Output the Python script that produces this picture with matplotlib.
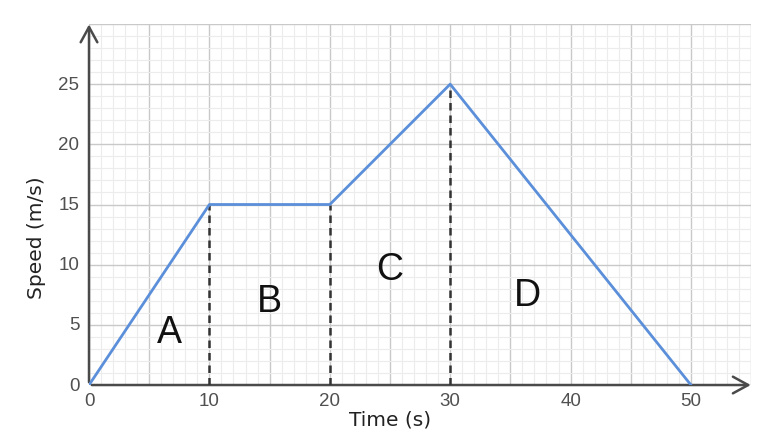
import numpy as np
import matplotlib.pyplot as plt
from matplotlib.ticker import MultipleLocator

# --- Data ---
time_s = [0, 10, 20, 30, 50]
speed_ms = [0, 15, 15, 25, 0]
drop_x = [10, 20, 30]
drop_y = [15, 15, 25]
section_labels = ["A", "B", "C", "D"]
section_x = [6.7, 15.0, 25.0, 36.4]
section_y = [4.4, 7.0, 9.6, 7.5]
x_ticks = [0, 10, 20, 30, 40, 50]
y_ticks = [0, 5, 10, 15, 20, 25]

fig = plt.figure(figsize=(7.72, 4.35), dpi=100)
ax = fig.add_axes([0.1153, 0.1126, 0.973 - 0.1153, 0.9425 - 0.1126])

ax.set_xlim(0, 55)
ax.set_ylim(0, 30)

# grid
ax.xaxis.set_major_locator(MultipleLocator(5))
ax.yaxis.set_major_locator(MultipleLocator(5))
ax.xaxis.set_minor_locator(MultipleLocator(1))
ax.yaxis.set_minor_locator(MultipleLocator(1))
ax.grid(which="major", color="#c9c9c9", linewidth=1.0)
ax.grid(which="minor", color="#ececec", linewidth=0.8)
ax.set_axisbelow(True)

ax.tick_params(which="both", length=0)
ax.set_xticklabels([])
ax.set_yticklabels([])
for s in ax.spines.values():
    s.set_visible(False)

# tick labels (only at selected values)
for xv in x_ticks:
    ax.text(xv, -0.55, str(xv), ha="center", va="top", fontsize=13.5,
            color="#505050", family="Liberation Sans")
for yv in y_ticks:
    ax.text(-0.8, yv, str(yv), ha="right", va="center", fontsize=13.5,
            color="#505050", family="Liberation Sans")

# axes with arrows
ax.annotate("", xy=(55.2, 0), xytext=(0, 0),
            arrowprops=dict(arrowstyle="->,head_length=1.1,head_width=0.6", color="#4a4a4a", lw=1.8),
            annotation_clip=False)
ax.annotate("", xy=(0, 30.2), xytext=(0, 0),
            arrowprops=dict(arrowstyle="->,head_length=1.1,head_width=0.6", color="#4a4a4a", lw=1.8),
            annotation_clip=False)

# dashed drop lines
for xv, yv in zip(drop_x, drop_y):
    ax.plot([xv, xv], [0, yv], color="#333333", linestyle=(0, (3, 2)), linewidth=1.8, zorder=3)

# speed profile
ax.plot(time_s, speed_ms, color="#5b8fd9", linewidth=2, zorder=4, solid_capstyle="round")

for lab, xv, yv in zip(section_labels, section_x, section_y):
    ax.text(xv, yv, lab, ha="center", va="center", fontsize=27, color="#111111",
            family="Liberation Sans")

ax.text(25, -2.0, "Time (s)", ha="center", va="top", fontsize=14.5, color="#222222")
ax.text(-4.4, 12.3, "Speed (m/s)", ha="center", va="center", rotation=90, fontsize=14.5, color="#222222")

fig.savefig("out.png", dpi=100)
